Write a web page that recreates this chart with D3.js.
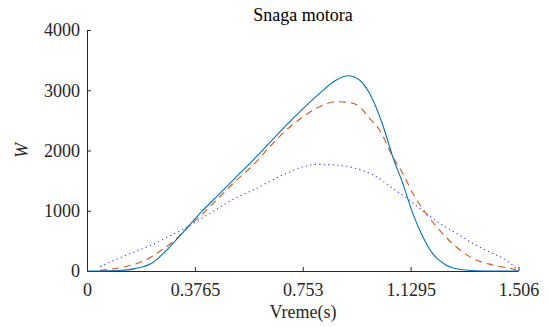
<!DOCTYPE html>
<html>
<head>
<meta charset="utf-8">
<script src="https://cdn.jsdelivr.net/npm/d3@7"></script>
</head>
<body style="margin:0">
<svg id="chart" width="549" height="327" font-family="Liberation Serif"></svg>
<script>

// DATA //

// time (s) and power (W) for each curve
const tSolid = [0, 0.05, 0.11, 0.168, 0.226, 0.284, 0.342, 0.40, 0.458, 0.516, 0.58, 0.696, 0.812, 0.87, 0.911, 0.951, 0.986, 1.038, 1.067, 1.102, 1.137, 1.172, 1.206, 1.253, 1.299, 1.357, 1.42, 1.506];
const pSolid = [0, 0, 8, 40, 128, 377, 680, 984, 1261, 1539, 1842, 2423, 2949, 3170, 3241, 3170, 2949, 2340, 1897, 1455, 957, 570, 293, 100, 28, 5, 0, 0];

const tDashed = [0.046, 0.133, 0.197, 0.261, 0.307, 0.354, 0.412, 0.458, 0.51, 0.58, 0.638, 0.696, 0.754, 0.812, 0.87, 0.911, 0.951, 0.986, 1.021, 1.067, 1.102, 1.137, 1.183, 1.23, 1.288, 1.346, 1.415, 1.497, 1.506];
const pDashed = [10, 72, 166, 349, 515, 736, 985, 1206, 1455, 1759, 2063, 2340, 2561, 2727, 2810, 2800, 2727, 2534, 2340, 1897, 1621, 1290, 957, 680, 403, 210, 100, 17, 0];

const tDotted = [0.046, 0.11, 0.168, 0.226, 0.284, 0.342, 0.40, 0.458, 0.51, 0.58, 0.696, 0.754, 0.812, 0.87, 0.928, 0.986, 1.009, 1.067, 1.125, 1.183, 1.241, 1.299, 1.357, 1.415, 1.462, 1.497, 1.506];
const pDotted = [72, 210, 321, 432, 570, 708, 874, 1040, 1190, 1345, 1621, 1732, 1770, 1759, 1715, 1620, 1566, 1372, 1178, 957, 763, 597, 432, 293, 183, 45, 0];

const xTickVals = [0, 0.3765, 0.753, 1.1295, 1.506];
const yTickVals = [0, 1000, 2000, 3000, 4000];

drawChart();

function drawChart() {
    const fontName = "Liberation Serif";

    // DIMENSIONS //
    const m = {top: 30, right: 30, bottom: 56, left: 87},
        w = 549 - m.left - m.right,
        h = 327 - m.top - m.bottom;

    const root = d3.select("#chart")
        .append("g")
        .attr("transform", "translate(" + m.left + "," + m.top + ")");

    // SCALES //
    const xS = d3.scaleLinear().domain([0, 1.506]).range([0, w - 0.5]);
    const yS = d3.scaleLinear().domain([0, 4000]).range([h, 0]);

    // AXES // (ticks point inward, no box)
    const gx = root.append("g")
        .attr("transform", "translate(0," + h + ")")
        .call(d3.axisBottom(xS)
            .tickValues(xTickVals)
            .tickSize(-4)
            .tickPadding(12)
            .tickFormat(d => String(d)));

    const gy = root.append("g")
        .call(d3.axisLeft(yS)
            .tickValues(yTickVals)
            .tickSize(-4)
            .tickPadding(7)
            .tickFormat(d => String(d)));

    [gx, gy].forEach(a => {
        a.attr("font-family", fontName).attr("font-size", 18);
        a.select(".domain").attr("stroke", "#262626");
        a.selectAll(".tick line").attr("stroke", "#262626");
        a.selectAll(".tick text").attr("fill", "#262626");
    });
    gx.select(".domain").attr("d", "M0,0.5H" + (w - 0.5));
    gy.select(".domain").attr("d", "M0.5,0V" + h);
    gx.selectAll(".tick text").attr("dy", "0.71em");

    // LINES //
    const lineGen = d3.line()
        .x(d => xS(d[0]))
        .y(d => yS(d[1]))
        .curve(d3.curveMonotoneX);

    const curves = [
        {t: tDotted, p: pDotted, color: "#3a3aff", dash: "1.2,3.3"},
        {t: tDashed, p: pDashed, color: "#d95319", dash: "7,5"},
        {t: tSolid, p: pSolid, color: "#0072bd", dash: null}
    ];

    curves.forEach(c => {
        root.append("path")
            .datum(d3.zip(c.t, c.p))
            .attr("fill", "none")
            .attr("stroke", c.color)
            .attr("stroke-width", 1.1)
            .attr("stroke-dasharray", c.dash)
            .attr("d", lineGen);
    });

    // LABELS //
    root.append("text")
        .attr("text-anchor", "middle")
        .attr("x", w / 2)
        .attr("y", -9)
        .attr("font-size", 18)
        .attr("fill", "#000")
        .text("Snaga motora");

    root.append("text")
        .attr("text-anchor", "middle")
        .attr("x", w / 2)
        .attr("y", h + 47)
        .attr("font-size", 18)
        .attr("fill", "#262626")
        .text("Vreme(s)");

    root.append("text")
        .attr("text-anchor", "middle")
        .attr("transform", "translate(-59," + (h / 2) + ") rotate(-90)")
        .attr("font-size", 18)
        .attr("font-style", "italic")
        .attr("fill", "#262626")
        .text("W");
}

</script>
</body>
</html>
